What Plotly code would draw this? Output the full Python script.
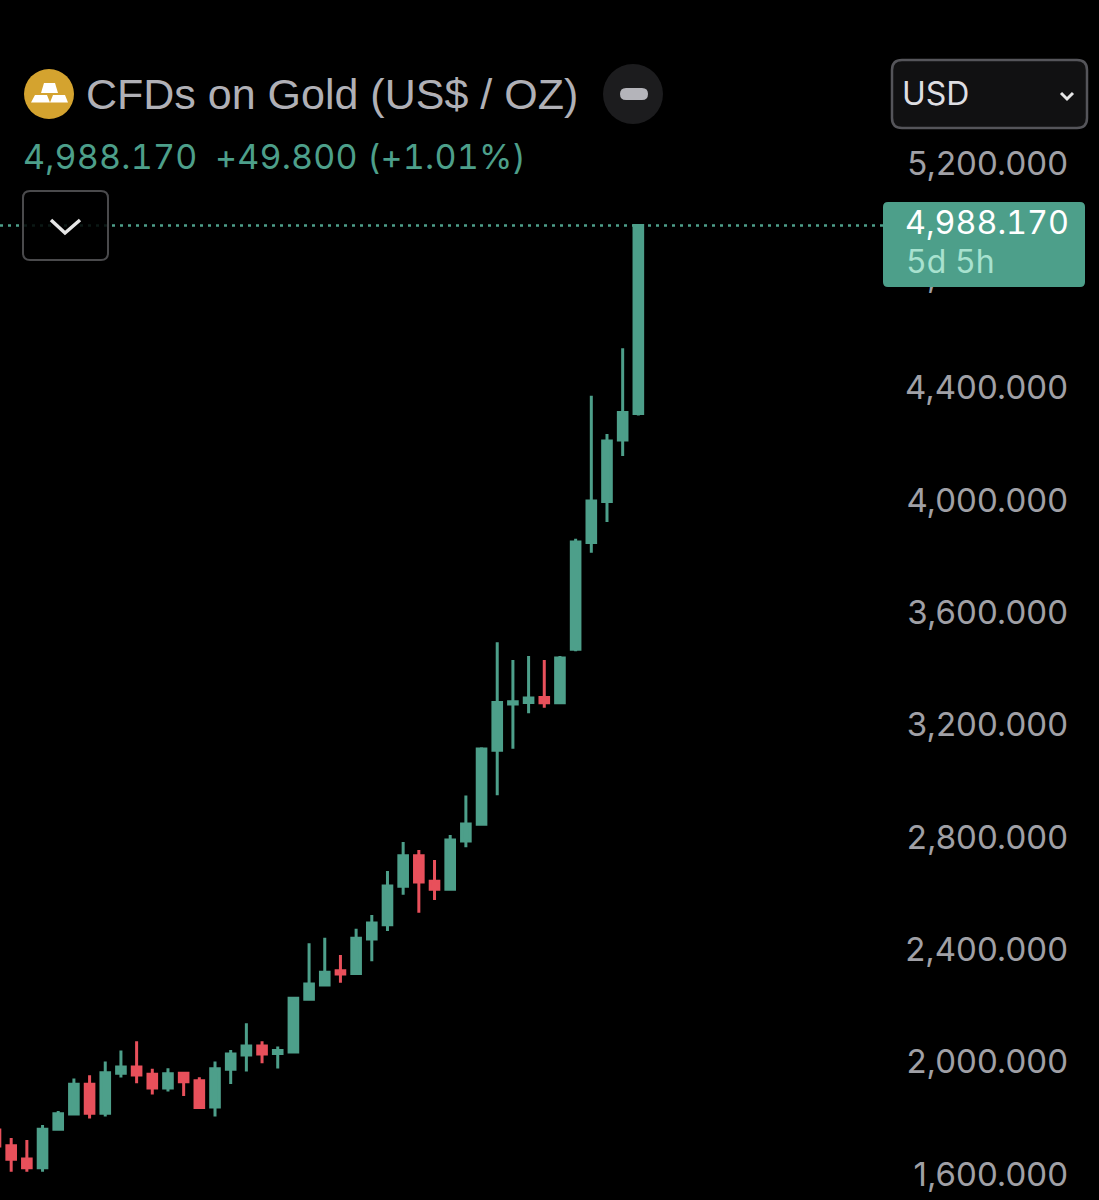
from plotly import graph_objects as go

W = 1099
H = 1200

# monthly candles, values
months = ['2022-08', '2022-09', '2022-10', '2022-11', '2022-12', '2023-01', '2023-02', '2023-03', '2023-04', '2023-05',
          '2023-06', '2023-07', '2023-08', '2023-09', '2023-10', '2023-11', '2023-12', '2024-01', '2024-02', '2024-03',
          '2024-04', '2024-05', '2024-06', '2024-07', '2024-08', '2024-09', '2024-10', '2024-11', '2024-12', '2025-01',
          '2025-02', '2025-03', '2025-04', '2025-05', '2025-06', '2025-07', '2025-08', '2025-09', '2025-10', '2025-11',
          '2025-12', '2026-01']
opens = [1767, 1711, 1664, 1633, 1770, 1824, 1930, 1827, 1969, 1992,
         1966, 1917, 1969, 1943, 1849, 1984, 2034, 2066, 2040, 2045,
         2233, 2284, 2334, 2325, 2447, 2498, 2635, 2744, 2653, 2625,
         2796, 2856, 3120, 3284, 3290, 3307, 3289, 3479, 3859, 4005,
         4224, 4319]
highs = [1782, 1739, 1732, 1785, 1835, 1951, 1962, 2011, 2050, 2083,
         1985, 1987, 1969, 1955, 2011, 2052, 2147, 2083, 2065, 2239,
         2432, 2452, 2390, 2484, 2533, 2690, 2793, 2764, 2729, 2818,
         2958, 3130, 3504, 3441, 3455, 3441, 3455, 3873, 4382, 4246,
         4551, 4992]
lows = [1696, 1619, 1619, 1619, 1770, 1824, 1808, 1815, 1954, 1934,
        1894, 1904, 1888, 1847, 1815, 1931, 1976, 2005, 1986, 2042,
        2233, 2281, 2292, 2320, 2368, 2476, 2605, 2541, 2586, 2619,
        2774, 2853, 2959, 3125, 3251, 3271, 3284, 3472, 3823, 3932,
        4167, 4312]
closes = [1710, 1663, 1633, 1770, 1825, 1930, 1827, 1971, 1992, 1963,
          1917, 1968, 1939, 1847, 1985, 2038, 2066, 2038, 2050, 2236,
          2287, 2329, 2323, 2450, 2504, 2636, 2744, 2650, 2625, 2800,
          2857, 3124, 3290, 3292, 3306, 3289, 3448, 3861, 4007, 4221,
          4322, 4988.17]

axis_ticks = [5200, 4800, 4400, 4000, 3600, 3200, 2800, 2400, 2000, 1600]
title_text = 'CFDs on Gold (US$ / OZ)'
price_text = '4,988.170'
change_text = '+49.800 (+1.01%)'
last_text = '4,988.170'
countdown_text = '5d 5h'
currency_text = 'USD'

GREEN = '#4d9f8a'
RED = '#e8505b'
GREY = '#b0b0b6'


def px(x):
    return x / W


def py(y):
    return 1 - y / H


def round_box(x0, y0, x1, y1, r):
    return (f'M{px(x0 + r)},{py(y0)} L{px(x1 - r)},{py(y0)} Q{px(x1)},{py(y0)} {px(x1)},{py(y0 + r)} '
            f'L{px(x1)},{py(y1 - r)} Q{px(x1)},{py(y1)} {px(x1 - r)},{py(y1)} '
            f'L{px(x0 + r)},{py(y1)} Q{px(x0)},{py(y1)} {px(x0)},{py(y1 - r)} '
            f'L{px(x0)},{py(y0 + r)} Q{px(x0)},{py(y0)} {px(x0 + r)},{py(y0)} Z')


def poly(points):
    return 'M' + ' L'.join(f'{px(x)},{py(y)}' for x, y in points)


def ui_path(path, fill='rgba(0,0,0,0)', color='rgba(0,0,0,0)', width=0):
    fig.add_shape(type='path', path=path, xref='paper', yref='paper', fillcolor=fill,
                  line=dict(color=color, width=width), layer='above')


def ui_circle(cx, cy, r, fill):
    fig.add_shape(type='circle', xref='paper', yref='paper', x0=px(cx - r), x1=px(cx + r),
                  y0=py(cy + r), y1=py(cy - r), fillcolor=fill, line_width=0, layer='above')


def ui_text(x, y, text, size, color, font='Inter', spacing=None):
    # digits in the reference are tabular and a bit spaced out
    if spacing is not None:
        text = f'<span style="font-variant-numeric:tabular-nums;letter-spacing:{spacing}px">{text}</span>'
    fig.add_annotation(x=px(x), y=py(y), xref='paper', yref='paper', text=text, showarrow=False,
                       xanchor='left', yanchor='middle', borderpad=0,
                       font=dict(family=font, size=size, color=color))


fig = go.Figure()
fig.add_trace(go.Candlestick(x=months, open=opens, high=highs, low=lows, close=closes,
                             whiskerwidth=0,
                             increasing=dict(line=dict(color=GREEN, width=3), fillcolor=GREEN),
                             decreasing=dict(line=dict(color=RED, width=3), fillcolor=RED)))

# last price line, stops at the label box
fig.add_shape(type='line', xref='paper', yref='y', x0=0, x1=px(883), y0=closes[-1], y1=closes[-1],
              line=dict(color=GREEN, width=2.5, dash='3px,5px'), layer='below')

# price label over the axis
ui_path(round_box(883, 202, 1085, 287, 5), fill=GREEN)
ui_text(904, 223, last_text, 32.3, '#ffffff', spacing=0)
ui_text(905, 262, countdown_text, 32, '#a8e2cf', spacing=0)

# header
ui_circle(49, 94, 25, '#d4a32f')
ui_path(poly([(44, 83), (55, 83), (58, 93), (41, 93)]) + ' Z', fill='#ffffff')
ui_path(poly([(35, 95), (47, 95), (50, 102.5), (31, 102.5)]) + ' Z', fill='#ffffff')
ui_path(poly([(53, 95), (65, 95), (68, 102.5), (50, 102.5)]) + ' Z', fill='#ffffff')
ui_text(84.5, 94, title_text, 43, GREY, font='Liberation Sans')
ui_circle(633, 94, 30, '#1c1c1e')
ui_path(round_box(620, 88, 648, 100, 6), fill='#b4b4ba')
ui_text(22, 156, price_text, 34, GREEN, spacing=0.2)
ui_text(214, 156, change_text, 34, GREEN, spacing=0.2)

# collapse button
ui_path(round_box(23, 191, 108, 260, 7), fill='rgba(0,0,0,0.85)', color='#4a4a4c', width=2)
ui_path(poly([(51, 220), (65, 233), (80, 220)]), color='#e6e6e6', width=3.5)

# currency select
ui_path(round_box(892, 60, 1087, 128, 10), fill='#111112', color='#55555a', width=2.5)
ui_text(901, 93, currency_text, 32, '#dedee2')
ui_path(poly([(1061, 93), (1067, 99), (1073, 93)]), color='#e6e6e6', width=3)

fig.update_layout(
    width=W,
    height=H,
    margin=dict(l=0, r=0, t=0, b=0),
    paper_bgcolor='#000000',
    plot_bgcolor='#000000',
    showlegend=False,
    boxgap=0.45,
    boxgroupgap=0,
    xaxis=dict(type='category', range=[0.287, 70.38], visible=False, rangeslider_visible=False,
               showgrid=False, fixedrange=True),
    yaxis=dict(range=[1518, 5791.2], side='right', showgrid=False, zeroline=False, showline=False,
               tickvals=axis_ticks, tickformat=',.3f', ticks='', ticklabelposition='inside',
               ticklabelstandoff=28, ticklabelshift=-3,
               tickfont=dict(family='Inter', size=33, color='#a0a0a6')),
)

fig.write_html('out.html', config={'displayModeBar': False},
               post_script="document.body.style.margin='0';document.body.style.background='#000';")
